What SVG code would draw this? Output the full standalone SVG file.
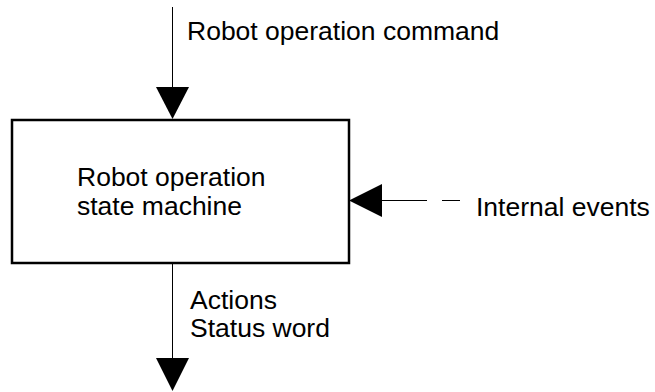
<svg xmlns="http://www.w3.org/2000/svg" width="655" height="392" viewBox="0 0 655 392">
  <style>
    .lbl { font-family: "Liberation Sans", Arial, sans-serif; font-size: 26.5px; fill: #000; }
    .wire { stroke: #000; stroke-width: 1; fill: none; }
    .head { fill: #000; stroke: none; }
    .box { fill: #fff; stroke: #000; stroke-width: 2.5; }
  </style>
  <rect width="655" height="392" fill="#fff"/>

  <g id="connectors">
    <!-- command input from above -->
    <g id="edge-command">
      <line class="wire" x1="172.5" y1="7" x2="172.5" y2="88"/>
      <polygon class="head" points="156,87 189,87 172.5,119"/>
      <text class="lbl" x="187" y="40">Robot operation command</text>
    </g>
    <!-- internal events from the right -->
    <g id="edge-events">
      <line class="wire" x1="381" y1="200.5" x2="427" y2="200.5" stroke="#444"/>
      <line class="wire" x1="442" y1="200.5" x2="460" y2="200.5" stroke="#444"/>
      <polygon class="head" points="349,200.5 382,184 382,217"/>
      <text class="lbl" x="476" y="216">Internal events</text>
    </g>
    <!-- outputs downward -->
    <g id="edge-outputs">
      <line class="wire" x1="172.5" y1="264" x2="172.5" y2="359"/>
      <polygon class="head" points="156,358 189,358 172.5,391"/>
      <text class="lbl" x="190" y="309">Actions</text>
      <text class="lbl" x="190" y="337">Status word</text>
    </g>
  </g>

  <g id="state-machine">
    <rect class="box" x="12" y="120" width="337" height="143"/>
    <text class="lbl" x="77" y="186">Robot operation</text>
    <text class="lbl" x="77" y="215">state machine</text>
  </g>
</svg>
